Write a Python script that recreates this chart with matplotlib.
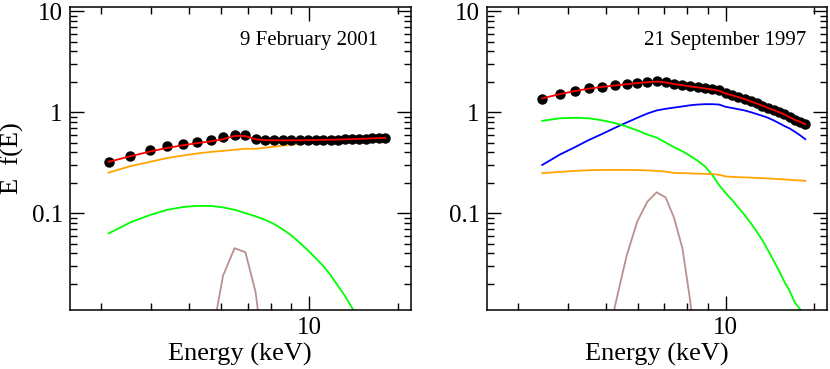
import matplotlib
matplotlib.use("Agg")
import matplotlib.pyplot as plt
from matplotlib.ticker import FixedLocator, NullFormatter

plt.rcParams["font.family"] = ["Liberation Serif", "DejaVu Serif"]

# --- 9 February 2001 ---
e_feb = [3.13, 3.55, 3.98, 4.40, 4.81, 5.23, 5.65, 6.07, 6.49, 6.91, 7.33, 7.74, 8.16, 8.59,
         9.02, 9.46, 9.91, 10.37, 10.84, 11.32, 11.81, 12.31, 12.82, 13.34, 13.87, 14.41,
         14.96, 15.52]
data_feb = [0.320, 0.372, 0.423, 0.461, 0.489, 0.512, 0.528, 0.566, 0.596, 0.592, 0.544, 0.530,
            0.528, 0.527, 0.527, 0.527, 0.528, 0.530, 0.532, 0.533, 0.535, 0.538, 0.540, 0.543,
            0.546, 0.549, 0.560, 0.553]
model_feb = [0.322, 0.366, 0.408, 0.443, 0.470, 0.494, 0.514, 0.540, 0.582, 0.580, 0.540, 0.528,
             0.527, 0.526, 0.526, 0.527, 0.528, 0.530, 0.532, 0.534, 0.536, 0.538, 0.541, 0.544,
             0.547, 0.550, 0.553, 0.556]
orange_feb = [0.252, 0.292, 0.322, 0.352, 0.372, 0.390, 0.404, 0.414, 0.424, 0.435, 0.434, 0.445,
              0.456, 0.467, 0.476, 0.485, 0.493, 0.500, 0.507, 0.514, 0.520, 0.527, 0.533, 0.540,
              0.547, 0.553, 0.559, 0.566]
green_feb = [0.063, 0.081, 0.096, 0.108, 0.115, 0.118, 0.118, 0.114, 0.108, 0.100, 0.093, 0.086,
             0.078, 0.069, 0.060, 0.051, 0.043, 0.036, 0.030, 0.0243, 0.019, 0.015, 0.0115,
             0.0088, 0.0066, 0.0049, 0.0036, 0.0026]
e_line_feb = [5.65, 6.07, 6.49, 6.91, 7.33, 7.74]
line_feb = [0.005, 0.024, 0.045, 0.041, 0.0165, 0.003]

# --- 21 September 1997 ---
e_sep = [3.45, 3.82, 4.17, 4.52, 4.89, 5.26, 5.63, 5.99, 6.35, 6.70, 7.06, 7.41, 7.78, 8.13,
         8.50, 8.87, 9.24, 9.62, 10.00, 10.38, 10.77, 11.16, 11.56, 11.96, 12.37, 12.78, 13.20,
         13.62, 14.05, 14.49, 14.94, 15.40, 15.87]
data_sep = [1.35, 1.52, 1.63, 1.72, 1.79, 1.86, 1.90, 1.95, 2.00, 2.03, 1.98, 1.91, 1.86, 1.81,
            1.77, 1.73, 1.69, 1.64, 1.55, 1.47, 1.41, 1.35, 1.28, 1.22, 1.16, 1.10, 1.05, 1.00,
            0.95, 0.89, 0.84, 0.80, 0.76]
model_sep = [1.37, 1.51, 1.62, 1.71, 1.78, 1.84, 1.89, 1.94, 1.98, 2.01, 1.97, 1.90, 1.85, 1.80,
             1.76, 1.72, 1.68, 1.63, 1.53, 1.47, 1.41, 1.35, 1.28, 1.22, 1.16, 1.10, 1.05, 1.00,
             0.95, 0.89, 0.84, 0.80, 0.76]
blue_sep = [0.30, 0.38, 0.45, 0.53, 0.61, 0.70, 0.79, 0.88, 0.97, 1.04, 1.08, 1.11, 1.14, 1.17,
            1.19, 1.20, 1.20, 1.19, 1.13, 1.10, 1.07, 1.04, 1.00, 0.96, 0.92, 0.88, 0.83, 0.78,
            0.73, 0.69, 0.64, 0.59, 0.54]
green_sep = [0.82, 0.87, 0.88, 0.87, 0.83, 0.78, 0.72, 0.66, 0.60, 0.56, 0.50, 0.45, 0.41, 0.37,
             0.33, 0.29, 0.24, 0.19, 0.158, 0.135, 0.113, 0.096, 0.080, 0.066, 0.054, 0.043,
             0.034, 0.027, 0.021, 0.017, 0.013, 0.0112, 0.0085]
orange_sep = [0.249, 0.256, 0.262, 0.266, 0.268, 0.268, 0.268, 0.267, 0.265, 0.262, 0.258, 0.250,
              0.249, 0.248, 0.246, 0.245, 0.244, 0.240, 0.231, 0.229, 0.227, 0.226, 0.225, 0.223,
              0.222, 0.221, 0.219, 0.217, 0.216, 0.214, 0.212, 0.211, 0.209]
e_line_sep = [4.89, 5.26, 5.63, 5.99, 6.35, 6.70, 7.06, 7.41, 7.78, 8.13, 8.50]
line_sep = [0.002, 0.012, 0.038, 0.083, 0.130, 0.161, 0.143, 0.090, 0.045, 0.014, 0.003]

x_minor = [3, 4, 5, 6, 7, 8, 9, 16.7]

fig = plt.figure(figsize=(8.3, 3.69), dpi=100)
ax1 = fig.add_axes([0.084, 0.160, 0.411, 0.821])
ax2 = fig.add_axes([0.5864, 0.160, 0.41, 0.821])

panels = [
    (ax1, e_feb, data_feb, model_feb, [(orange_feb, "#ffa500"), (green_feb, "#00ff00")],
     e_line_feb, line_feb, "9 February 2001", 0.904),
    (ax2, e_sep, data_sep, model_sep,
     [(blue_sep, "#0000ff"), (green_sep, "#00ff00"), (orange_sep, "#ffa500")],
     e_line_sep, line_sep, "21 September 1997", 0.94),
]

for ax, e, dat, mod, comps, e_ln, ln, title, tx in panels:
    ax.set_xscale("log")
    ax.set_yscale("log")
    ax.plot(e, dat, "o", color="black", ms=6.5, zorder=3)
    ax.plot(e, mod, color="red", lw=1.3, zorder=4)
    for vals, col in comps:
        ax.plot(e, vals, color=col, lw=1.3, zorder=2)
    ax.plot(e_ln, ln, color="#bc8f8f", lw=1.3, zorder=2)
    ax.set_xlim(2.5, 18)
    ax.set_ylim(0.011, 11)
    ax.xaxis.set_major_locator(FixedLocator([10]))
    ax.xaxis.set_minor_locator(FixedLocator(x_minor))
    ax.xaxis.set_minor_formatter(NullFormatter())
    ax.set_xticks([10], labels=["10"])
    ax.set_yticks([0.1, 1, 10], labels=["0.1", "1", "10"])
    ax.tick_params(which="both", direction="in", top=True, right=True, width=1.0,
                   labelsize=18)
    ax.tick_params(which="major", length=10, pad=5)
    ax.tick_params(which="minor", length=5)
    for sp in ax.spines.values():
        sp.set_linewidth(1.1)
    ax.set_xlabel("Energy (keV)", fontsize=19, labelpad=3)
    ax.text(tx, 0.89, title, transform=ax.transAxes, ha="right", va="center", fontsize=15)

fig.text(12.5 / 830, 1 - 158 / 369, "E  f(E)", rotation=90, ha="center", va="center",
         fontsize=19)

fig.savefig("out.png", dpi=100)
